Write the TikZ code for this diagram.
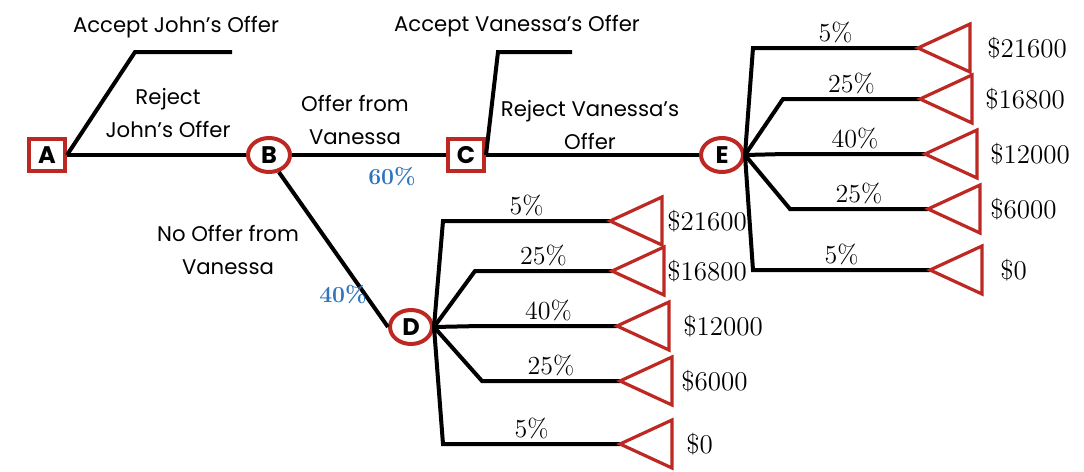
\documentclass[tikz,border=0pt]{standalone}
\usepackage{fontspec}
\newfontfamily\labelfont{Poppins}
\usetikzlibrary{shapes.geometric,calc}
\definecolor{treered}{RGB}{190,40,35}
\definecolor{probblue}{RGB}{46,117,190}

\begin{document}
\begin{tikzpicture}[x=0.5pt, y=-0.5pt,
	branch/.style={line width=2pt, line join=miter},
	decision/.style={draw=treered, line width=2pt, minimum width=18pt, minimum height=16pt, inner sep=0pt, font=\labelfont\bfseries\large},
	chance/.style={ellipse, draw=treered, line width=2pt, minimum width=21pt, minimum height=17pt, inner sep=0pt, font=\labelfont\bfseries\large},
	payoff/.style={draw=treered, line width=1.6pt, line join=miter},
	choice/.style={font=\labelfont\fontsize{10.6}{16.5}\selectfont, align=center},
	pct/.style={font=\fontsize{13}{15}\selectfont, anchor=south, inner sep=2.5pt},
	prob/.style={font=\fontsize{11.5}{13}\selectfont\bfseries, text=probblue},
	val/.style={font=\fontsize{13.5}{15}\selectfont, anchor=west, inner sep=0pt}]
	\useasboundingbox (0,0) rectangle (1084,472);
	% decision and chance nodes
	\node[decision] (A) at (47,155) {A};
	\node[chance] (B) at (269,155) {B};
	\node[decision] (C) at (466,155) {C};
	\node[chance] (E) at (722,155) {E};
	\node[chance] (D) at (411,327) {D};
	\coordinate (acceptJ) at (232,52);
	\coordinate (acceptV) at (572,52);
	\draw[branch] (A.east) -- (B.west);
	\draw[branch] (A.east) -- (135,52) -- (acceptJ);
	\draw[branch] (B.east) -- (C.west);
	\draw[branch] (C.east) -- (498,52) -- (acceptV);
	\draw[branch] (C.east) -- (E.west);
	\draw[branch] (B.300) -- (D.west);
	% choice labels
	\node[choice] (accJ) at (176,27) {Accept John’s Offer};
	\node[choice] (rejJ) at (168,113) {Reject\\John’s Offer};
	\node[choice] (offV) at (355,120) {Offer from\\Vanessa};
	\node[choice] (noV) at (228,250) {No Offer from\\Vanessa};
	\node[choice] (accV) at (517,26) {Accept Vanessa’s Offer};
	\node[choice] (rejV) at (590,125) {Reject Vanessa’s\\Offer};
	\node[prob] (p60) at (392,177) {60\%};
	\node[prob] (p40) at (343,295) {40\%};
	% outcomes after E
	\foreach \bx/\by/\tx/\p/\v/\lx [count=\i] in {753/48/918/5/21600/987, 783/99/920/25/16800/985, 785/154/925/40/12000/990, 790/209/928/25/6000/990, 753/270/930/5/0/1000} {
		\coordinate (e\i) at (\tx,\by);
		\draw[branch] (E.east) -- (\bx,\by) -- (e\i);
		\draw[payoff] (e\i) -- ++(52,-24) -- ++(0,48) -- cycle;
		\node[pct] (ep\i) at ($(\bx,\by)!.5!(e\i)$) {\p\%};
		\node[val] (ev\i) at (\lx,\by) {\$\v};
	}
	% outcomes after D
	\foreach \bx/\by/\tx/\p/\v/\lx [count=\i] in {443/221/610/5/21600/667, 475/271/612/25/16800/667, 480/326/617/40/12000/683, 482/381/620/25/6000/681, 443/444/620/5/0/686} {
		\coordinate (d\i) at (\tx,\by);
		\draw[branch] (D.east) -- (\bx,\by) -- (d\i);
		\draw[payoff] (d\i) -- ++(52,-24) -- ++(0,48) -- cycle;
		\node[pct] (dp\i) at ($(\bx,\by)!.5!(d\i)$) {\p\%};
		\node[val] (dv\i) at (\lx,\by) {\$\v};
	}
\end{tikzpicture}
\end{document}
